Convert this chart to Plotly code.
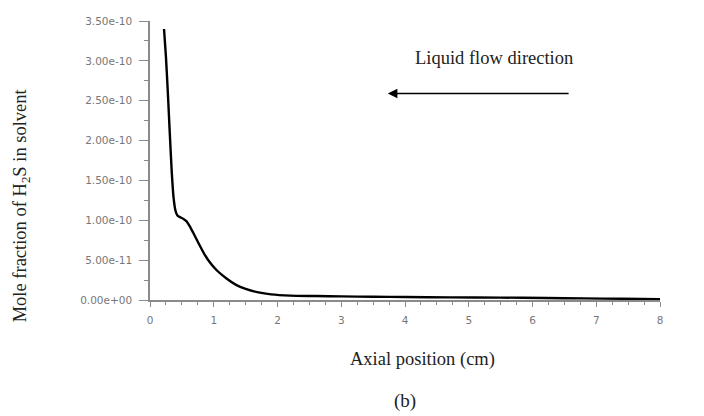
import plotly.graph_objects as go

# Data
axial_cm = [0.22, 0.25, 0.28, 0.31, 0.34, 0.37, 0.40, 0.43, 0.47, 0.52, 0.57, 0.62, 0.68,
            0.75, 0.85, 0.95, 1.05, 1.2, 1.35, 1.5, 1.7, 1.9, 2.2, 2.6, 3.0, 3.5, 4.0,
            4.7, 5.5, 6.2, 6.8, 7.4, 8.0]
mole_frac_e10 = [3.40, 3.05, 2.60, 2.10, 1.62, 1.28, 1.12, 1.06, 1.04, 1.02, 0.99, 0.93, 0.84,
                 0.73, 0.58, 0.46, 0.37, 0.27, 0.19, 0.14, 0.095, 0.07, 0.055, 0.05, 0.045, 0.04, 0.038,
                 0.033, 0.03, 0.025, 0.02, 0.015, 0.01]
mole_frac = [v * 1e-10 for v in mole_frac_e10]

y_tickvals = [0, 0.5e-10, 1.0e-10, 1.5e-10, 2.0e-10, 2.5e-10, 3.0e-10, 3.5e-10]
y_ticktext = ["0.00e+00", "5.00e-11", "1.00e-10", "1.50e-10", "2.00e-10", "2.50e-10", "3.00e-10", "3.50e-10"]
x_tickvals = [0, 1, 2, 3, 4, 5, 6, 7, 8]
x_ticktext = ["0", "1", "2", "3", "4", "5", "6", "7", "8"]

serif = "Liberation Serif, Times New Roman, serif"
sans = "DejaVu Sans, Verdana, sans-serif"
axis_grey = "#8a8a8a"
tick_font = dict(family=sans, size=10.5, color="#777777")

fig = go.Figure()
fig.add_trace(go.Scatter(x=axial_cm, y=mole_frac, mode="lines",
                         line=dict(color="black", width=2.4, shape="spline", smoothing=0.6),
                         showlegend=False, hoverinfo="skip"))

fig.update_layout(
    width=704, height=416,
    margin=dict(l=150, r=44, t=21, b=116),
    paper_bgcolor="white", plot_bgcolor="white",
    xaxis=dict(range=[0, 8], tickvals=x_tickvals, ticktext=x_ticktext,
               showgrid=False, zeroline=False, showline=True, linecolor=axis_grey, linewidth=1.5,
               ticks="outside", ticklen=5, tickcolor=axis_grey, tickfont=tick_font,
               ticklabelstandoff=5,
               minor=dict(dtick=0.25, ticks="outside", ticklen=3, tickcolor=axis_grey)),
    yaxis=dict(range=[0, 3.5e-10], tickvals=y_tickvals, ticktext=y_ticktext,
               showgrid=False, zeroline=False, showline=True, linecolor=axis_grey, linewidth=1.5,
               ticks="outside", ticklen=9, tickcolor=axis_grey, tickfont=tick_font,
               ticklabelstandoff=5,
               minor=dict(dtick=0.25e-10, ticks="outside", ticklen=4, tickcolor=axis_grey)),
)

fig.add_annotation(text="Mole fraction of H<sub>2</sub>S in solvent", xref="paper", yref="paper",
                   x=-0.279, y=0.34, textangle=-90, showarrow=False,
                   font=dict(family=serif, size=18.5, color="#222"))
fig.add_annotation(text="Axial position (cm)", xref="paper", yref="paper",
                   x=0.535, y=-0.258, showarrow=False,
                   font=dict(family=serif, size=18.5, color="#222"))
fig.add_annotation(text="(b)", xref="paper", yref="paper",
                   x=0.5, y=-0.41, showarrow=False,
                   font=dict(family=serif, size=19, color="#222"))
fig.add_annotation(text="Liquid flow direction", x=5.4, y=3.03e-10, xref="x", yref="y",
                   showarrow=False, font=dict(family=serif, size=18.5, color="#222"))
fig.add_annotation(x=3.73, y=2.59e-10, ax=6.59, ay=2.59e-10, xref="x", yref="y",
                   axref="x", ayref="y", text="", showarrow=True,
                   arrowhead=2, arrowsize=1.2, arrowwidth=1.6, arrowcolor="black")

fig.write_html("out.html")
